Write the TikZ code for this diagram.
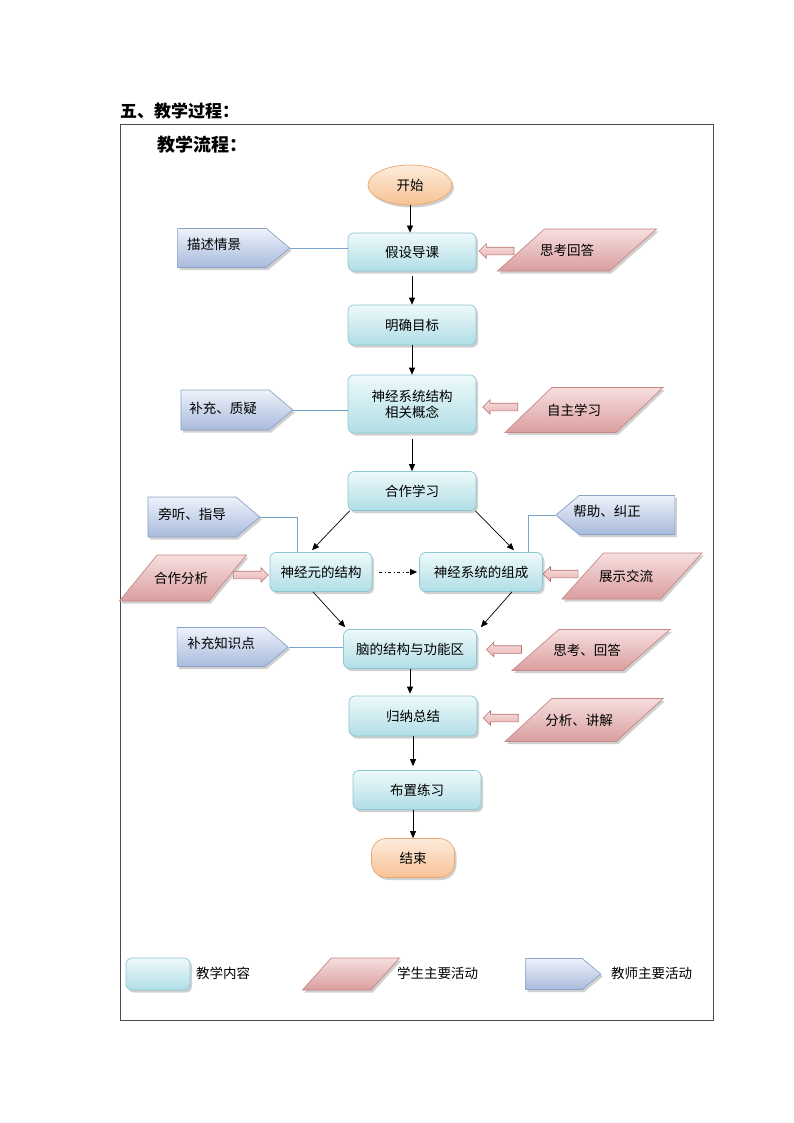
\documentclass[tikz,border=0pt]{standalone}
\usepackage{fontspec}
\setmainfont{Noto Sans CJK SC}
\usetikzlibrary{shapes.geometric,shapes.symbols,shapes.arrows,shadows,calc,arrows.meta}
\definecolor{boxtop}{RGB}{238,249,250}
\definecolor{boxbot}{RGB}{176,222,230}
\definecolor{boxline}{RGB}{140,198,210}
\definecolor{pktop}{RGB}{246,222,222}
\definecolor{pkbot}{RGB}{218,158,158}
\definecolor{pkline}{RGB}{200,135,135}
\definecolor{bltop}{RGB}{238,242,250}
\definecolor{blbot}{RGB}{168,186,220}
\definecolor{blline}{RGB}{140,162,200}
\definecolor{ortop}{RGB}{253,236,220}
\definecolor{orbot}{RGB}{247,194,148}
\definecolor{orline}{RGB}{232,168,112}
\definecolor{linkline}{RGB}{120,165,205}
\definecolor{arfill}{RGB}{240,188,188}
\definecolor{arline}{RGB}{185,115,115}
\newcommand\nfont{\fontsize{13.5}{16}\selectfont}
\begin{document}
\begin{tikzpicture}[x=1pt,y=-1pt,
  shadowed/.style={drop shadow={shadow xshift=2pt,shadow yshift=-2.5pt,opacity=0.3,fill=black!60}},
  content/.style={rectangle, rounded corners=6pt, draw=boxline, line width=0.7pt, top color=boxtop, bottom color=boxbot, shadowed, font=\nfont, inner sep=2pt, align=center},
  terminal/.style={draw=orline, line width=0.7pt, top color=ortop, bottom color=orbot, shadowed, font=\nfont, inner sep=1pt},
  student/.style={trapezium, trapezium stretches=true, trapezium left angle=54, trapezium right angle=126, draw=pkline, line width=0.7pt, top color=pktop, bottom color=pkbot, shadowed, font=\nfont, inner sep=1pt},
  teacher/.style={signal, signal pointer angle=80, draw=blline, line width=0.7pt, top color=bltop, bottom color=blbot, shadowed, font=\nfont, inner sep=2pt},
  txt/.style={font=\nfont, inner sep=1pt},
  fat/.style={single arrow, draw=arline, line width=0.6pt, top color=pktop, bottom color=arfill!90!arline, minimum height=35pt, minimum width=14pt, single arrow head extend=3.5pt, single arrow head indent=0pt, inner xsep=0pt, inner ysep=3.5pt},
  flow/.style={-{Triangle[length=7pt,width=6pt]}, line width=0.7pt},
  link/.style={draw=linkline, line width=0.6pt}]
\useasboundingbox (0,0) rectangle (794,1123);
\fill[white] (0,0) rectangle (794,1123);
\node[anchor=west, font=\bfseries\fontsize{17}{20}\selectfont, inner sep=0pt] (title) at (120,111) {五、教学过程：};
\node[draw=black!70, line width=0.6pt, minimum width=593pt, minimum height=896pt, inner sep=0pt] (frame) at (416.5,572) {};
\node[anchor=west, font=\bfseries\fontsize{18}{22}\selectfont, inner sep=0pt] (sub) at (157,145) {教学流程：};
% main flow
\node[terminal, ellipse, minimum width=84pt, minimum height=40pt] (start) at (410,185) {开始};
\node[content, minimum width=128pt, minimum height=38pt] (n1) at (412,252) {假设导课};
\node[content, minimum width=128pt, minimum height=40pt] (n2) at (412,325) {明确目标};
\node[content, minimum width=128pt, minimum height=58pt] (n3) at (412,404) {神经系统结构\\相关概念};
\node[content, minimum width=128pt, minimum height=39pt] (n4) at (412,491) {合作学习};
\node[content, minimum width=102pt, minimum height=39pt] (n5) at (321,572) {神经元的结构};
\node[content, minimum width=123pt, minimum height=39pt] (n6) at (481,572) {神经系统的组成};
\node[content, minimum width=133pt, minimum height=39pt] (n7) at (410,649) {脑的结构与功能区};
\node[content, minimum width=128pt, minimum height=40pt] (n8) at (413,716) {归纳总结};
\node[content, minimum width=128pt, minimum height=39pt] (n9) at (417,790) {布置练习};
\node[terminal, rectangle, rounded corners=15pt, minimum width=83pt, minimum height=39pt] (end) at (413,858) {结束};
% teacher
\node[teacher, signal to=east, minimum width=112pt, minimum height=39pt,
  label={[txt, xshift=-8pt, yshift=4pt]center:描述情景}] (t1) at (222,248) {};
\node[teacher, signal to=east, minimum width=112pt, minimum height=40pt,
  label={[txt, xshift=-2pt, yshift=2pt]center:补充、质疑}] (t2) at (225,410) {};
\node[teacher, signal to=east, minimum width=112pt, minimum height=40pt,
  label={[txt, yshift=3pt]center:旁听、指导}] (t3) at (192,517) {};
\node[teacher, signal to=west, minimum width=119pt, minimum height=39pt,
  label={[txt, xshift=-20pt, yshift=4pt]center:帮助、纠正}] (t4) at (627,515) {};
\node[teacher, signal to=east, minimum width=111pt, minimum height=39pt,
  label={[txt, yshift=4pt]center:补充知识点}] (t5) at (221,647) {};
% student
\node[student, minimum width=159pt, minimum height=42pt,
  label={[txt, xshift=-10pt]center:思考回答}] (s1) at (577,250) {};
\node[student, minimum width=158pt, minimum height=45pt,
  label={[txt, xshift=-10pt]center:自主学习}] (s2) at (584,410) {};
\node[student, minimum width=127pt, minimum height=46pt,
  label={[txt, xshift=-2pt]center:合作分析}] (s3) at (183,578) {};
\node[student, minimum width=140pt, minimum height=46pt,
  label={[txt, xshift=-6pt]center:展示交流}] (s4) at (632,576) {};
\node[student, minimum width=158pt, minimum height=41pt,
  label={[txt, xshift=-4pt]center:思考、回答}] (s5) at (591,650) {};
\node[student, minimum width=158pt, minimum height=43pt,
  label={[txt, xshift=-5pt]center:分析、讲解}] (s6) at (584,720) {};
% flow arrows
\draw[flow] (start.south) -- (start.south |- n1.north);
\draw[flow, shorten <=5pt] (n1.south) -- (n2.north);
\draw[flow] (n2.south) -- (n3.north);
\draw[flow, shorten <=6pt] (n3.south) -- (n4.north);
\draw[flow] ($(n4.south west)+(2,0)$) -- ($(n5.north)+(-9,-2)$);
\draw[flow] ($(n4.south east)+(-1,0)$) -- ($(n6.north)+(33,-2)$);
\draw[flow] ($(n5.south)+(-8,0)$) -- ($(n7.north west)+(2,-2)$);
\draw[flow] ($(n6.south)+(31,0)$) -- ($(n7.north east)+(4,-2)$);
\draw[flow, dash pattern=on 3pt off 2.5pt on 1pt off 2.5pt, shorten <=7pt, shorten >=2pt] (n5.east) -- (n6.west);
\draw[flow, shorten >=2pt] (n7.south) -- (n7.south |- n8.north);
\draw[flow, shorten >=4pt] (n8.south) -- (n8.south |- n9.north);
\draw[flow] (n9.south -| end.north) -- (end.north);
% teacher links
\draw[link] (t1.east) -- (t1.east -| n1.west);
\draw[link] (t2.east) -- (t2.east -| n3.west);
\draw[link] (t3.east) -| ($(n5.north)+(-24,0)$);
\draw[link] (t4.west) -| ($(n6.north)+(47,0)$);
\draw[link] (t5.east) -- (t5.east -| n7.west);
% student arrows
\node[fat, shape border rotate=180] (a1) at ($(n1.east)!0.5!(s1.west)$) {};
\node[fat, shape border rotate=180] (a2) at ($(n3.east)!0.5!(s2.west)$) {};
\node[fat] (a3) at ($(s3.east)!0.5!(n5.west)$) {};
\node[fat, shape border rotate=180] (a4) at ($(n6.east)!0.5!(s4.west)$) {};
\node[fat, shape border rotate=180] (a5) at ($(n7.east)!0.5!(s5.west)$) {};
\node[fat, shape border rotate=180] (a6) at ($(n8.east)!0.5!(s6.west)$) {};
% legend
\node[content, minimum width=64pt, minimum height=32pt] (l1) at (158,974) {};
\node[anchor=west, font=\nfont, inner sep=0pt] (l1t) at (196,973) {教学内容};
\node[student, minimum width=97pt, minimum height=32pt] (l2) at (351,974) {};
\node[anchor=west, font=\nfont, inner sep=0pt] (l2t) at (397,973) {学生主要活动};
\node[teacher, signal to=east, minimum width=75pt, minimum height=31pt] (l3) at (554,974) {};
\node[anchor=west, font=\nfont, inner sep=0pt] (l3t) at (611,973) {教师主要活动};
\end{tikzpicture}
\end{document}
